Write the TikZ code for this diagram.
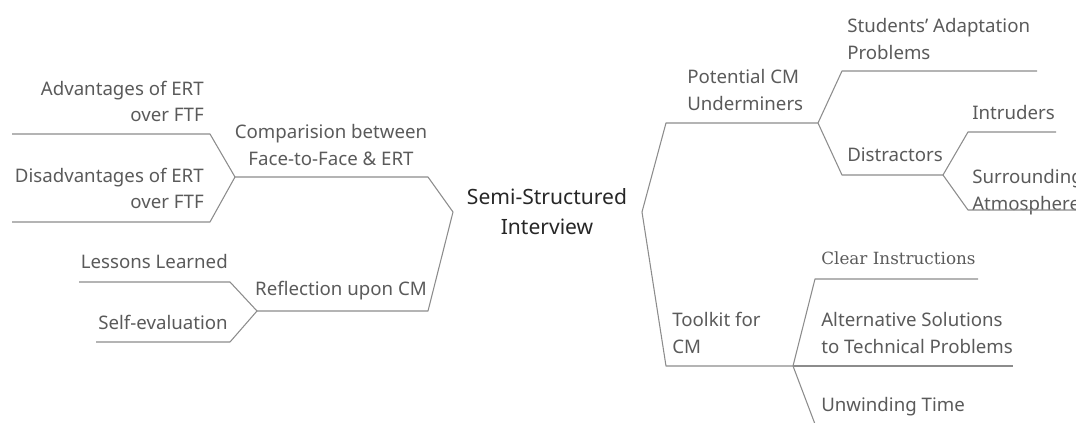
\documentclass[tikz,border=0pt]{standalone}
\usepackage{fontspec}
\setmainfont{Noto Sans}
\newfontfamily\leafserif{DejaVu Serif}
\usetikzlibrary{positioning}
\definecolor{branchgray}{HTML}{8C8C8C}
\definecolor{labelgray}{HTML}{5A5A5A}
\definecolor{rootgray}{HTML}{262626}

\begin{document}
\begin{tikzpicture}[x=0.75pt,y=-0.75pt]
\tikzstyle{root} = [align=center, text=rootgray, font=\fontsize{15.8}{22.5}\selectfont, inner sep=0pt]
\tikzstyle{topic} = [text=labelgray, font=\fontsize{14}{20}\selectfont, inner sep=0pt]
\tikzstyle{branch} = [draw=branchgray, line width=0.8pt, line join=round]
\useasboundingbox (0,0) rectangle (1076,423);
\clip (0,0) rectangle (1076,423);
% centre
\node[root] (root) at (547,212) {Semi-Structured\\Interview};
\coordinate (root-l) at (453,212);
\coordinate (root-r) at (642,212);
% left side
\coordinate (cmp-r) at (428,177);
\coordinate (cmp-l) at (235,177);
\node[topic, align=center] (cmp) at (331,145) {Comparision between\\Face-to-Face \& ERT};
\coordinate (adv-r) at (210,134);
\coordinate (adv-l) at (12,134);
\node[topic, align=right, anchor=east] (adv) at (204,101.5) {Advantages of ERT\\over FTF};
\coordinate (dadv-r) at (210,222);
\coordinate (dadv-l) at (12,222);
\node[topic, align=right, anchor=east] (dadv) at (204,188.5) {Disadvantages of ERT\\over FTF};
\coordinate (ref-r) at (428,311);
\coordinate (ref-l) at (257,311);
\node[topic, anchor=east] (ref) at (427,291) {Reflection upon CM};
\coordinate (les-r) at (230,282);
\coordinate (les-l) at (79,282);
\node[topic, anchor=east] (les) at (228,262) {Lessons Learned};
\coordinate (self-r) at (230,342);
\coordinate (self-l) at (96,342);
\node[topic, anchor=east] (self) at (228,322) {Self-evaluation};
\draw[branch] (root-l) -- (cmp-r) -- (cmp-l);
\draw[branch] (cmp-l) -- (adv-r) -- (adv-l);
\draw[branch] (cmp-l) -- (dadv-r) -- (dadv-l);
\draw[branch] (root-l) -- (ref-r) -- (ref-l);
\draw[branch] (ref-l) -- (les-r) -- (les-l);
\draw[branch] (ref-l) -- (self-r) -- (self-l);
% right side
\coordinate (pot-l) at (666,123);
\coordinate (pot-r) at (818,123);
\node[topic, align=left, anchor=west] (pot) at (687,90) {Potential CM\\Underminers};
\coordinate (stu-l) at (842,71);
\coordinate (stu-r) at (1037,71);
\node[topic, align=left, anchor=west] (stu) at (847,39) {Students' Adaptation\\Problems};
\coordinate (dst-l) at (842,175);
\coordinate (dst-r) at (943,175);
\node[topic, anchor=west] (dst) at (847,155) {Distractors};
\coordinate (int-l) at (968,132);
\coordinate (int-r) at (1056,132);
\node[topic, anchor=west] (int) at (972,113) {Intruders};
\coordinate (sur-l) at (968,210);
\coordinate (sur-r) at (1100,210);
\node[topic, align=left, anchor=west] (sur) at (972,192) {Surrounding\\Atmosphere};
\coordinate (tool-l) at (666,366);
\coordinate (tool-r) at (793,366);
\node[topic, align=left, anchor=west] (tool) at (672,333) {Toolkit for\\CM};
\coordinate (clr-l) at (815,279);
\coordinate (clr-r) at (978,279);
\node[topic, anchor=west, font=\leafserif\fontsize{12.6}{20}\selectfont] (clr) at (821,258) {Clear Instructions};
\coordinate (alt-r) at (1013,366);
\node[topic, align=left, anchor=west] (alt) at (821,333) {Alternative Solutions\\to Technical Problems};
\coordinate (unw-l) at (818,432);
\coordinate (unw-r) at (960,432);
\node[topic, anchor=west] (unw) at (821,407) {Unwinding Time};
\draw[branch] (root-r) -- (pot-l) -- (pot-r);
\draw[branch] (pot-r) -- (stu-l) -- (stu-r);
\draw[branch] (pot-r) -- (dst-l) -- (dst-r);
\draw[branch] (dst-r) -- (int-l) -- (int-r);
\draw[branch] (dst-r) -- (sur-l) -- (sur-r);
\draw[branch] (root-r) -- (tool-l) -- (tool-r);
\draw[branch] (tool-r) -- (clr-l) -- (clr-r);
\draw[branch] (tool-r) -- (alt-r);
\draw[branch] (tool-r) -- (unw-l) -- (unw-r);
\end{tikzpicture}
\end{document}
